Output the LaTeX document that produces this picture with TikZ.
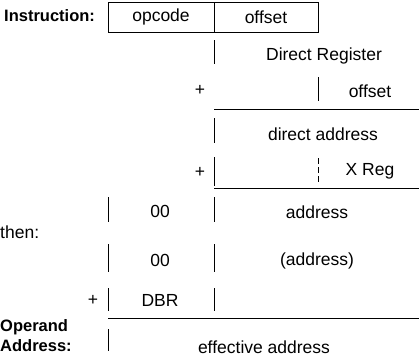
\documentclass[tikz,border=0pt]{standalone}
\usepackage{fontspec}
\setmainfont{Liberation Sans}
\usetikzlibrary{positioning}

\begin{document}
\begin{tikzpicture}[x=1pt, y=-1pt,
  lbl/.style={font=\fontsize{17.5}{19}\selectfont, inner sep=0pt},
  hdr/.style={font=\fontsize{16.5}{17}\selectfont\bfseries, inner sep=0pt, align=left},
  field/.style={draw, line width=0.9pt, minimum height=30pt, inner sep=0pt, font=\fontsize{17.5}{19}\selectfont},
  tick/.style={line width=1pt},
  rule/.style={line width=1pt}
]
  \useasboundingbox (0,0) rectangle (419,357);

  % instruction word
  \node[hdr, anchor=west] (instr) at (4,16) {Instruction:};
  \node[field, minimum width=106pt] (opcode) at (161,17) {opcode};
  \node[field, minimum width=104pt] (offs) at (266,17) {offset};

  % direct register + offset
  \draw[tick] (214,40) -- (214,64);
  \node[lbl] (dreg) at (324,56) {Direct Register};
  \node[lbl] (plusa) at (200,90) {+};
  \draw[tick] (318,77) -- (318,101);
  \node[lbl] (offb) at (370,91) {offset};
  \draw[rule] (214,109) -- (419,109);

  % direct address + X
  \draw[tick] (214,118) -- (214,143);
  \node[lbl] (daddr) at (323,134) {direct address};
  \node[lbl] (plusb) at (200,172) {+};
  \draw[tick] (214,157) -- (214,186);
  \draw[tick, dash pattern=on 6pt off 3pt] (318,158) -- (318,183);
  \node[lbl] (xreg) at (370,171) {X Reg};
  \draw[rule] (214,188) -- (419,188);

  % address
  \draw[tick] (108,197) -- (108,222);
  \draw[tick] (214,197) -- (214,222);
  \node[lbl] (zeroa) at (160,211) {00};
  \node[lbl] (addr) at (317,212) {address};

  % then
  \node[lbl, anchor=west] (then) at (0,232) {then:};
  \draw[tick] (108,244) -- (108,272);
  \draw[tick] (214,244) -- (214,272);
  \node[lbl] (zerob) at (160,260) {00};
  \node[lbl] (iaddr) at (317,261) {(address)};

  \node[lbl] (plusc) at (93,300) {+};
  \draw[tick] (108,288) -- (108,311);
  \draw[tick] (214,288) -- (214,311);
  \node[lbl] (dbr) at (160,300) {DBR};
  \draw[rule] (108,318) -- (419,318);

  % result
  \node[hdr, anchor=west] (opnd) at (0,327) {Operand};
  \node[hdr, anchor=west] (opaddr) at (0,346) {Address:};
  \draw[tick] (108,329) -- (108,351);
  \node[lbl] (eaddr) at (264,347) {effective address};
\end{tikzpicture}
\end{document}
